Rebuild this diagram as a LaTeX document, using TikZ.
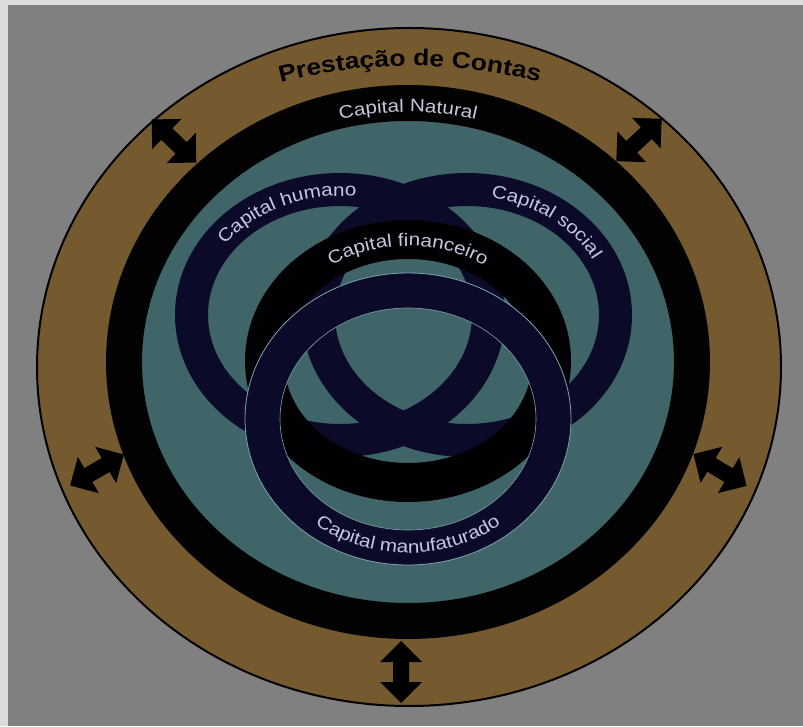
\documentclass[tikz,border=0pt]{standalone}
\usepackage{fontspec}
\setmainfont{Liberation Sans}
\newfontfamily\lblfont[FakeStretch=1.15]{Liberation Sans}
\usetikzlibrary{decorations.text}
\definecolor{edgebg}{HTML}{DCDCDC}
\definecolor{bggray}{HTML}{808080}
\definecolor{brownring}{HTML}{765A2F}
\definecolor{tealfill}{HTML}{3F6569}
\definecolor{natblack}{HTML}{020203}
\definecolor{navyring}{HTML}{0B0B29}
\definecolor{finblack}{HTML}{010104}
\definecolor{lbltext}{HTML}{C6C6DE}
\definecolor{ringedge}{HTML}{7FA3AA}
\tikzset{
  ringlabel/.style={decorate, decoration={text along path, text align=center,
      text color=lbltext, text={|\lblfont\fontsize{18}{18}\selectfont|#1}}},
  titlelabel/.style={decorate, decoration={text along path, text align=center,
      text color=black, text={|\lblfont\fontsize{23}{23}\selectfont\bfseries|#1}}},
  navyband/.style={draw=navyring, line width=#1},
  blackband/.style={draw=finblack, line width=#1},
  blockarrow/.style={fill=black},
}
\newcommand{\bigdarrow}[3]{%
  \fill[blockarrow, shift={(#1,#2)}, rotate=#3]
    (31,0) -- (10,21) -- (10,8) -- (-10,8) -- (-10,21) -- (-31,0)
    -- (-10,-21) -- (-10,-8) -- (10,-8) -- (10,-21) -- cycle;}
\begin{document}
\begin{tikzpicture}[x=1pt,y=1pt]
\useasboundingbox (0,0) rectangle (803,726);
% background
\fill[edgebg] (0,0) rectangle (803,726);
\fill[bggray] (8,0) rectangle (803,721);
% outer brown ring (Prestacao de Contas)
\filldraw[fill=brownring, draw=black, line width=2] (409,359) ellipse [x radius=372, y radius=339];
% teal interior and natural capital ring
\fill[tealfill] (408,364) ellipse [x radius=284, y radius=259];
\draw[draw=natblack, line width=36] (408,364) ellipse [x radius=284, y radius=259];
% capital humano
\draw[navyband=33] (340,411) ellipse [x radius=148.5, y radius=125.5];
% capital social
\draw[navyband=33] (467,411) ellipse [x radius=148.5, y radius=125.5];
% capital financeiro
\draw[blackband=39] (408,365) ellipse [x radius=143.5, y radius=121.5];
% capital manufaturado
\draw[navyband=35] (408,307) ellipse [x radius=145.5, y radius=128.5];
\draw[draw=ringedge, line width=0.8] (408,307) ellipse [x radius=163, y radius=146];
\draw[draw=ringedge, line width=0.6] (408,307) ellipse [x radius=128, y radius=111];
% arrows
\bigdarrow{174}{585}{-44}
\bigdarrow{639}{586}{43}
\bigdarrow{97}{256}{30}
\bigdarrow{720}{256}{-31}
\bigdarrow{401}{54}{90}
% labels
\path[titlelabel={Prestação de Contas}] (410,140) ++(107:520) arc[start angle=107, end angle=73, radius=520];
\path[ringlabel={Capital Natural}] (408,364) ++(125:276 and 250) arc[start angle=125, end angle=55, x radius=276, y radius=250];
\path[ringlabel={Capital humano}] (340,411) ++(165:142 and 119) arc[start angle=165, end angle=65, x radius=142, y radius=119];
\path[ringlabel={Capital social}] (467,411) ++(102:142 and 119) arc[start angle=102, end angle=2, x radius=142, y radius=119];
\path[ringlabel={Capital financeiro}] (408,365) ++(145:137 and 115) arc[start angle=145, end angle=35, x radius=137, y radius=115];
\path[ringlabel={Capital manufaturado}] (408,307) ++(205:150 and 134) arc[start angle=205, end angle=335, x radius=150, y radius=134];
\end{tikzpicture}
\end{document}
